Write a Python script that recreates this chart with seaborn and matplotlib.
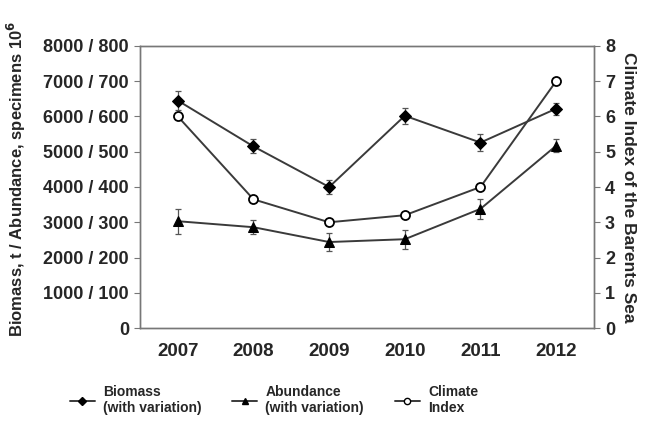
import numpy as np
import pandas as pd
import matplotlib
matplotlib.use("Agg")
import matplotlib.pyplot as plt
from matplotlib.lines import Line2D
import seaborn as sns

# data
years = ["2007", "2008", "2009", "2010", "2011", "2012"]
biomass = [6450, 5150, 4000, 6020, 5260, 6220]          # t
biomass_err = [280, 200, 200, 230, 230, 170]
abundance = [303, 286, 244, 252, 338, 517]               # specimens 10^6
abundance_err = [35, 20, 25, 27, 28, 18]
climate = [6.0, 3.65, 3.0, 3.2, 4.0, 7.0]
left_ticks = [0, 1000, 2000, 3000, 4000, 5000, 6000, 7000, 8000]

sns.set_style("white")
plt.rcParams["font.family"] = ["Liberation Sans", "DejaVu Sans"]
plt.rcParams["font.weight"] = "bold"

line_col = "#3a3a3a"
err_col = "#555555"

fig = plt.figure(figsize=(6.49, 4.25), dpi=100)
ax = fig.add_axes([0.2157, 0.228, 0.6995, 0.664])
ax2 = ax.twinx()

x = np.arange(len(years))
df = pd.DataFrame({"x": x, "biomass": biomass,
                   "abundance": np.array(abundance) * 10,
                   "climate": climate})

# error bars first so markers sit on top
ax.errorbar(x, df["biomass"], yerr=biomass_err, fmt="none", ecolor=err_col,
            elinewidth=0.9, capsize=2.5, capthick=0.9, zorder=2)
ax.errorbar(x, df["abundance"], yerr=np.array(abundance_err) * 10, fmt="none",
            ecolor=err_col, elinewidth=0.9, capsize=2.5, capthick=0.9, zorder=2)

sns.lineplot(data=df, x="x", y="biomass", ax=ax, color=line_col, lw=1.4,
             marker="D", markersize=6, markerfacecolor="black",
             markeredgecolor="black", zorder=3)
sns.lineplot(data=df, x="x", y="abundance", ax=ax, color=line_col, lw=1.4,
             marker="^", markersize=6.5, markerfacecolor="black",
             markeredgecolor="black", zorder=3)
sns.lineplot(data=df, x="x", y="climate", ax=ax2, color=line_col, lw=1.4,
             marker="o", markersize=6.5, markerfacecolor="white",
             markeredgecolor="black", markeredgewidth=1.3, zorder=3)

ax.set_xlim(-0.5, len(years) - 0.5)
ax.set_ylim(0, 8000)
ax2.set_ylim(0, 8)

ax.set_yticks(left_ticks)
ax.set_yticklabels([f"{v} / {v // 10}" if v else "0" for v in left_ticks])
ax2.set_yticks(range(0, 9))

ax.set_xticks(x)
ax.set_xticklabels(years, fontsize=13.5, fontweight="bold")
ax.set_xticks(np.arange(-0.5, len(years)), minor=True)
ax.tick_params(axis="x", which="major", length=0, pad=11)
ax.tick_params(axis="x", which="minor", length=4, direction="out", color="#777777")
ax.tick_params(axis="y", length=4, direction="out", color="#777777",
               labelsize=13, pad=4)
ax2.tick_params(axis="y", length=4, direction="out", color="#777777",
                labelsize=13, pad=4)
for lab in ax.get_yticklabels() + ax2.get_yticklabels():
    lab.set_fontweight("bold")

ax.set_xlabel("")
ax.set_ylabel("Biomass, t / Abundance, specimens 10$^{\\mathbf{6}}$",
              fontsize=12, fontweight="bold", va="center")
ax.yaxis.set_label_coords(-0.272, 0.53)
ax2.set_ylabel("Climate Index of the Barents Sea", fontsize=12.5,
               fontweight="bold", rotation=270, va="center")
ax2.yaxis.set_label_coords(1.077, 0.5)

for a in (ax, ax2):
    for s in a.spines.values():
        s.set_color("#777777")
        s.set_linewidth(1.0)

handles = [
    Line2D([], [], color=line_col, lw=1.4, marker="D", markersize=4.5,
           markerfacecolor="black", markeredgecolor="black"),
    Line2D([], [], color=line_col, lw=1.4, marker="^", markersize=5,
           markerfacecolor="black", markeredgecolor="black"),
    Line2D([], [], color=line_col, lw=1.4, marker="o", markersize=4.5,
           markerfacecolor="white", markeredgecolor="black"),
]
labels = ["Biomass\n(with variation)", "Abundance\n(with variation)",
          "Climate\nIndex"]
fig.legend(handles, labels, loc="center", bbox_to_anchor=(0.422, 0.058),
           ncol=3, frameon=False, prop={"size": 10, "weight": "bold"},
           handlelength=1.8, columnspacing=2.2, handletextpad=0.6)

fig.savefig("out.png", dpi=100)
